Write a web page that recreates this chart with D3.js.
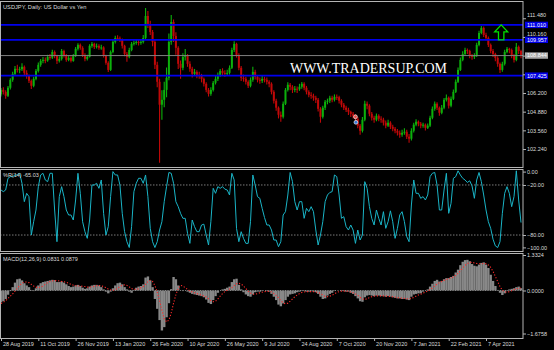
<!DOCTYPE html>
<html>
<head>
<meta charset="utf-8">
<script src="https://cdn.jsdelivr.net/npm/d3@7"></script>
<style>
  html, body { margin: 0; padding: 0; background: #000; }
  svg { display: block; }
</style>
</head>
<body>
<div id="chart"></div>
<script>
// USDJPY daily, one entry per two trading days
const firstOpen = 106.10;
const closes = [
  106.42,106.28,106.00,106.57,107.13,107.55,107.91,107.83,107.88,108.05,
  107.62,107.41,107.06,106.71,107.20,107.76,108.19,108.47,108.54,108.50,
  108.75,108.70,109.10,108.82,108.47,108.61,109.17,108.82,108.54,108.68,
  108.47,108.82,109.32,109.60,109.39,108.89,108.61,108.75,109.53,109.67,
  109.46,109.53,109.39,109.42,108.82,108.33,107.83,109.10,109.81,110.09,
  110.05,109.95,109.53,108.96,108.75,109.24,109.67,109.74,109.81,109.74,
  109.81,110.09,111.64,111.08,110.51,109.81,108.19,106.99,105.37,105.72,
  106.42,107.27,109.81,111.22,110.23,109.39,108.26,107.98,108.75,108.82,
  108.26,107.91,107.55,107.69,107.48,107.41,107.20,106.85,106.42,106.14,
  106.42,106.92,107.20,107.48,107.76,107.62,107.55,107.62,107.98,109.24,
  109.67,108.89,107.98,107.27,107.20,106.99,106.71,107.13,107.69,107.34,
  107.13,107.06,107.20,107.13,106.99,106.85,106.28,105.65,105.16,104.66,
  104.52,105.44,106.42,106.78,106.64,106.42,106.50,106.46,106.64,106.85,
  106.57,106.28,106.07,106.00,105.86,105.72,105.08,104.52,105.16,105.58,
  105.65,105.86,105.72,105.93,105.90,105.65,105.37,105.16,105.01,104.87,
  104.73,104.59,104.38,103.89,103.53,104.31,105.44,105.30,104.73,104.45,
  104.31,104.59,104.38,104.31,104.10,103.89,104.10,103.81,103.67,103.53,
  103.39,103.25,103.39,103.46,103.11,102.97,103.53,103.96,104.17,104.03,
  103.89,103.96,103.74,103.89,104.45,105.08,105.44,105.16,104.80,105.16,
  105.72,105.86,105.30,105.79,106.28,106.99,107.83,108.54,108.96,109.24,
  109.17,108.82,108.75,108.82,109.60,110.44,110.80,110.30,110.09,109.60,
  109.17,108.96,108.68,108.26,107.83,108.26,109.10,109.32,109.24,108.82,
  108.54,109.46,109.17,108.84
];
const highs = [
  106.55,106.60,106.40,106.70,107.25,107.70,108.10,108.20,108.05,108.30,
  108.15,107.80,107.50,107.15,107.35,107.90,108.35,108.60,108.75,108.70,
  108.90,108.95,109.25,109.20,108.90,108.80,109.30,109.25,108.95,108.85,
  108.80,108.95,109.45,109.72,109.70,109.50,109.00,108.90,109.65,109.80,
  109.75,109.70,109.65,109.60,109.50,108.90,108.45,109.20,109.95,110.25,
  110.28,110.20,110.05,109.60,109.10,109.40,109.80,109.90,110.00,109.95,
  109.95,110.30,112.21,112.00,111.30,110.65,110.00,108.40,107.20,106.40,
  107.00,108.00,110.40,111.71,111.40,110.50,109.50,108.50,109.00,109.30,
  108.95,108.45,108.05,107.90,107.80,107.70,107.55,107.30,106.95,106.55,
  106.60,107.05,107.40,107.65,107.90,107.95,107.80,107.85,108.15,109.40,
  109.85,109.75,109.00,108.10,107.50,107.35,107.10,107.30,108.05,107.85,
  107.45,107.30,107.40,107.35,107.30,107.10,106.95,106.40,105.80,105.25,
  104.90,105.60,106.55,106.95,106.90,106.75,106.70,106.65,106.85,106.98,
  106.95,106.70,106.40,106.25,106.15,106.00,105.85,105.20,105.30,105.70,
  105.80,106.00,106.00,106.10,106.10,106.00,105.75,105.50,105.30,105.15,
  104.95,104.85,104.70,104.50,104.00,104.50,105.65,105.60,105.40,104.85,
  104.60,104.75,104.70,104.55,104.45,104.25,104.30,104.20,103.95,103.80,
  103.65,103.55,103.60,103.70,103.60,103.30,103.70,104.10,104.35,104.25,
  104.15,104.10,104.05,104.05,104.60,105.25,105.60,105.55,105.25,105.35,
  105.85,106.10,105.95,105.95,106.45,107.15,108.00,108.70,109.15,109.40,
  109.35,109.25,108.95,109.00,109.75,110.60,110.94,110.90,110.45,110.20,
  109.70,109.30,109.05,108.80,108.35,108.40,109.25,109.45,109.40,109.35,
  108.95,109.74,109.55,109.25
];
const lows = [
  105.95,106.10,105.80,105.92,106.45,107.00,107.40,107.65,107.60,107.75,
  107.45,107.20,106.90,106.48,106.60,107.10,107.65,108.05,108.30,108.30,
  108.40,108.55,108.60,108.65,108.25,108.35,108.50,108.70,108.40,108.45,
  108.35,108.40,108.75,109.20,109.25,108.75,108.45,108.50,108.70,109.40,
  109.30,109.35,109.25,109.25,108.70,108.20,107.68,107.75,109.00,109.70,
  109.90,109.80,109.35,108.80,108.40,108.65,109.15,109.55,109.60,109.55,
  109.60,109.70,110.00,110.80,110.30,109.50,107.90,106.60,101.27,104.30,
  105.20,105.90,107.10,109.60,109.80,108.90,107.90,107.20,107.80,108.50,
  108.05,107.70,107.30,107.40,107.25,107.20,106.95,106.65,106.25,105.95,
  106.00,106.30,106.80,107.05,107.35,107.45,107.35,107.40,107.50,107.90,
  109.10,108.70,107.80,107.05,107.00,106.80,106.55,106.60,107.00,107.15,
  106.95,106.85,106.90,106.95,106.80,106.60,106.10,105.45,104.95,104.40,
  104.17,104.40,105.35,106.30,106.40,106.20,106.25,106.20,106.35,106.50,
  106.40,106.10,105.90,105.80,105.65,105.50,104.90,104.10,104.40,105.00,
  105.40,105.50,105.55,105.60,105.70,105.45,105.20,105.00,104.85,104.65,
  104.50,104.40,104.20,103.70,103.25,103.40,104.20,105.05,104.55,104.25,
  104.10,104.20,104.20,104.10,103.90,103.70,103.80,103.65,103.50,103.35,
  103.20,103.04,103.10,103.25,102.95,102.69,102.85,103.40,103.85,103.85,
  103.70,103.75,103.55,103.65,103.80,104.35,104.95,105.00,104.60,104.70,
  105.05,105.60,105.10,105.20,105.70,106.20,106.90,107.75,108.45,108.85,
  108.95,108.65,108.55,108.60,108.75,109.50,110.35,110.15,109.90,109.45,
  109.00,108.75,108.45,108.05,107.62,107.70,108.15,109.00,109.00,108.65,
  108.35,108.45,108.95,108.65
];

// Williams %R(14)
const wpr = [
  -26,-28,-26,-12,-10,-10,-8,-8,-6,-18,
  -40,-30,-34,-80,-64,-50,-22,-8,-6,-14,
  -16,-6,-6,-50,-88,-34,-22,-34,-50,-56,
  -56,-62,-38,-6,-30,-64,-76,-84,-62,-20,
  -20,-18,-24,-14,-54,-80,-70,-34,-4,-8,
  -8,-20,-54,-76,-88,-95,-70,-28,-18,-12,
  -12,-18,-8,-34,-72,-88,-95,-88,-74,-64,
  -40,-22,-5,-6,-18,-40,-46,-54,-60,-60,
  -78,-90,-62,-70,-76,-76,-68,-67,-80,-92,
  -64,-24,-30,-22,-24,-22,-25,-26,-32,-6,
  -14,-72,-88,-76,-84,-90,-90,-64,-8,-20,
  -34,-36,-48,-59,-68,-68,-74,-86,-86,-94,
  -88,-56,-52,-32,-5,-16,-40,-50,-40,-40,
  -60,-48,-52,-46,-52,-74,-92,-80,-64,-40,
  -32,-29,-28,-8,-10,-32,-60,-58,-70,-74,
  -68,-74,-90,-74,-86,-80,-16,-24,-46,-60,
  -68,-50,-60,-68,-52,-72,-64,-51,-64,-84,
  -72,-56,-52,-64,-82,-88,-44,-14,-30,-30,
  -36,-34,-38,-32,-10,-6,-5,-20,-50,-50,
  -26,-6,-54,-42,-12,-10,-3,-8,-12,-14,
  -17,-15,-21,-36,-14,-5,-16,-32,-50,-64,
  -72,-85,-93,-95,-88,-54,-30,-22,-30,-46,
  -34,-3,-38,-65.03
];

// MACD(12,26,9) main (histogram) and signal
const macd = [
  -0.42,-0.38,-0.30,-0.15,-0.02,0.12,0.28,0.40,0.42,0.36,
  0.26,0.18,0.12,0.02,-0.02,0.08,0.18,0.26,0.30,0.32,
  0.34,0.36,0.38,0.37,0.30,0.30,0.32,0.28,0.22,0.16,
  0.12,0.14,0.18,0.20,0.16,0.10,0.06,0.08,0.14,0.18,
  0.20,0.20,0.18,0.12,0.04,-0.04,-0.10,-0.04,0.08,0.18,
  0.26,0.28,0.22,0.12,0.04,-0.04,-0.08,0.02,0.10,0.14,
  0.16,0.22,0.46,0.50,0.36,0.12,-0.30,-0.65,-1.05,-1.42,
  -1.30,-0.95,-0.45,0.05,0.48,0.40,0.18,0.00,-0.02,0.00,
  -0.04,-0.08,-0.12,-0.14,-0.16,-0.18,-0.20,-0.24,-0.32,-0.44,
  -0.48,-0.34,-0.20,-0.08,0.00,0.04,0.06,0.10,0.14,0.30,
  0.40,0.42,0.20,0.04,-0.06,-0.14,-0.20,-0.22,-0.14,-0.06,
  -0.04,-0.04,-0.02,0.00,-0.02,-0.04,-0.12,-0.22,-0.34,-0.50,
  -0.56,-0.46,-0.34,-0.22,-0.14,-0.12,-0.10,-0.06,-0.04,-0.02,
  -0.02,-0.04,-0.04,-0.02,-0.04,-0.06,-0.12,-0.22,-0.30,-0.28,
  -0.18,-0.12,-0.08,-0.02,0.00,0.00,-0.02,-0.02,-0.04,-0.04,
  -0.08,-0.12,-0.20,-0.28,-0.38,-0.40,-0.24,-0.18,-0.16,-0.18,
  -0.20,-0.18,-0.18,-0.20,-0.20,-0.22,-0.20,-0.22,-0.24,-0.26,
  -0.28,-0.28,-0.30,-0.30,-0.32,-0.34,-0.22,-0.14,-0.12,-0.10,
  -0.10,-0.04,0.00,0.04,0.14,0.24,0.34,0.38,0.32,0.34,
  0.40,0.44,0.44,0.48,0.52,0.64,0.74,0.90,1.02,1.08,
  1.09,1.04,0.94,0.88,0.86,0.92,0.98,1.00,0.92,0.80,
  0.56,0.34,0.16,0.02,-0.08,-0.16,-0.10,-0.02,0.04,0.06,
  0.08,0.12,0.14,0.0831
];
const signal = [
  -0.46,-0.42,-0.36,-0.28,-0.20,-0.12,-0.02,0.08,0.18,0.26,
  0.30,0.30,0.28,0.22,0.16,0.12,0.10,0.12,0.16,0.22,
  0.28,0.32,0.34,0.35,0.35,0.34,0.32,0.31,0.29,0.26,
  0.22,0.19,0.17,0.16,0.16,0.15,0.14,0.12,0.12,0.13,
  0.15,0.17,0.18,0.17,0.14,0.10,0.05,0.02,0.01,0.03,
  0.08,0.14,0.19,0.20,0.18,0.13,0.07,0.04,0.04,0.06,
  0.10,0.14,0.22,0.32,0.36,0.32,0.18,-0.06,-0.36,-0.70,
  -1.00,-1.12,-1.05,-0.80,-0.45,-0.15,0.08,0.18,0.16,0.10,
  0.04,-0.01,-0.05,-0.08,-0.11,-0.14,-0.16,-0.19,-0.23,-0.29,
  -0.36,-0.40,-0.38,-0.30,-0.20,-0.11,-0.04,0.01,0.05,0.10,
  0.17,0.24,0.26,0.23,0.16,0.07,-0.02,-0.09,-0.13,-0.13,
  -0.11,-0.08,-0.06,-0.04,-0.03,-0.03,-0.05,-0.10,-0.17,-0.26,
  -0.36,-0.44,-0.47,-0.45,-0.38,-0.30,-0.22,-0.16,-0.11,-0.07,
  -0.05,-0.04,-0.04,-0.04,-0.04,-0.05,-0.07,-0.11,-0.16,-0.21,
  -0.22,-0.20,-0.17,-0.12,-0.07,-0.04,-0.02,-0.02,-0.02,-0.03,
  -0.05,-0.08,-0.12,-0.17,-0.24,-0.30,-0.32,-0.29,-0.25,-0.22,
  -0.20,-0.19,-0.19,-0.19,-0.19,-0.20,-0.20,-0.21,-0.22,-0.23,
  -0.25,-0.26,-0.27,-0.28,-0.29,-0.30,-0.28,-0.24,-0.20,-0.16,
  -0.13,-0.09,-0.06,-0.02,0.03,0.09,0.16,0.23,0.28,0.32,
  0.36,0.39,0.42,0.45,0.48,0.54,0.61,0.70,0.80,0.89,
  0.96,1.00,1.00,0.98,0.96,0.95,0.95,0.96,0.95,0.91,
  0.82,0.68,0.50,0.32,0.14,0.01,-0.05,-0.06,-0.04,-0.01,
  0.03,0.06,0.08,0.0879
];

// axis labels
const dateTickBars = [0,16,32,48,64,80,96,112,128,144,160,176,192,208];
const dateLabels = ["28 Aug 2019","11 Oct 2019","26 Nov 2019","13 Jan 2020","26 Feb 2020",
  "10 Apr 2020","26 May 2020","9 Jul 2020","24 Aug 2020","7 Oct 2020","20 Nov 2020",
  "7 Jan 2021","22 Feb 2021","7 Apr 2021"];
const priceTicks = [111.48,110.16,108.84,107.52,106.20,104.88,103.56,102.24];
const levelLines = [111.010, 109.957, 107.425];
const bidPrice = 108.844;
const wprTicks = [0,-20,-80,-100];
const wprLevels = [-20,-80];
const macdTicks = [1.3324, 0, -1.6758];

// annotations on the price pane
const arrowMark = { bar: 214.5, top: 111.01, bottom: 109.95 };
const tradeMarks = [
  { bar: 152.0, price: 104.52, color: "#e8504a" },
  { bar: 152.2, price: 104.13, color: "#3a78d8" }
];

const W = 554, H = 350, xR = 523;
const font = "'Liberation Sans', Arial, sans-serif";
const fs = 5.5;
const frame = "#b4b4b4";
const txt = "#dcdcdc";

const svg = d3.select("#chart").append("svg")
  .attr("width", W).attr("height", H)
  .attr("viewBox", [0, 0, W, H])
  .style("background", "#000");

const x = d3.scaleLinear().domain([0, closes.length - 1]).range([1, 521]);
const step = x(1) - x(0);
const yP = d3.scaleLinear().domain([100.97, 112.70]).range([167, 1]);
const yW = d3.scaleLinear().domain([-100, 0]).range([251.7, 168.3]);
const yM = d3.scaleLinear().domain([-1.6758, 1.3324]).range([337.7, 253]);

svg.append("defs").append("clipPath").attr("id", "clipMain")
  .append("rect").attr("x", 1).attr("y", 2).attr("width", xR - 1).attr("height", 165);

// ---------- price pane ----------
const main = svg.append("g").attr("clip-path", "url(#clipMain)");

const bars = closes.map((c, i) => ({
  i, c, h: highs[i], l: lows[i], o: i === 0 ? firstOpen : closes[i - 1]
}));
const green = "#0cb00c", red = "#c00808";

main.append("g").selectAll("line").data(bars).join("line")
  .attr("x1", d => x(d.i)).attr("x2", d => x(d.i))
  .attr("y1", d => yP(d.h)).attr("y2", d => yP(d.l))
  .attr("stroke", d => d.c >= d.o ? green : red).attr("stroke-width", 1.1);

main.append("g").selectAll("rect").data(bars).join("rect")
  .attr("x", d => x(d.i) - 1).attr("width", 2)
  .attr("y", d => yP(Math.max(d.o, d.c)))
  .attr("height", d => Math.max(1, Math.abs(yP(d.o) - yP(d.c))))
  .attr("fill", d => d.c >= d.o ? green : red);

// horizontal lines
main.append("line").attr("x1", 0).attr("x2", xR)
  .attr("y1", yP(bidPrice)).attr("y2", yP(bidPrice))
  .attr("stroke", "#808080").attr("stroke-width", 1);
main.append("g").selectAll("line").data(levelLines).join("line")
  .attr("x1", 0).attr("x2", xR)
  .attr("y1", d => yP(d)).attr("y2", d => yP(d))
  .attr("stroke", "#0000ee").attr("stroke-width", 1.8);

// watermark
svg.append("text").attr("x", 290).attr("y", 72.5)
  .attr("font-family", "'Liberation Serif', 'Times New Roman', serif")
  .attr("font-size", 14.5).attr("fill", "#ffffff")
  .attr("textLength", 157).attr("lengthAdjust", "spacingAndGlyphs")
  .text("WWW.TRADERSUP.COM");

// arrow
{
  const cx = x(arrowMark.bar), t = yP(arrowMark.top), b = yP(arrowMark.bottom);
  const hw = 6.5, sw = 2.7, hh = 7;
  svg.append("path")
    .attr("d", `M${cx},${t}L${cx + hw},${t + hh}L${cx + sw},${t + hh}L${cx + sw},${b}L${cx - sw},${b}L${cx - sw},${t + hh}L${cx - hw},${t + hh}Z`)
    .attr("fill", "none").attr("stroke", "#00e000").attr("stroke-width", 1.3);
}

// trade markers
svg.append("line")
  .attr("x1", x(tradeMarks[0].bar)).attr("x2", x(tradeMarks[1].bar))
  .attr("y1", yP(tradeMarks[0].price)).attr("y2", yP(tradeMarks[1].price))
  .attr("stroke", "#aaa").attr("stroke-width", 0.6).attr("stroke-dasharray", "1,1");
svg.append("g").selectAll("circle").data(tradeMarks).join("circle")
  .attr("cx", d => x(d.bar)).attr("cy", d => yP(d.price)).attr("r", 1.9)
  .attr("fill", d => d.color).attr("stroke", "#eee").attr("stroke-width", 0.7);

svg.append("text").attr("x", 3).attr("y", 8.5)
  .attr("font-family", font).attr("font-size", 5.7).attr("fill", txt)
  .text("USDJPY, Daily:  US Dollar vs Yen");

// ---------- %R pane ----------
svg.append("g").selectAll("line").data(wprLevels).join("line")
  .attr("x1", 0).attr("x2", xR)
  .attr("y1", d => yW(d)).attr("y2", d => yW(d))
  .attr("stroke", "#9a9a9a").attr("stroke-width", 0.8).attr("stroke-dasharray", "1.5,1.5");

svg.append("path").datum(wpr)
  .attr("d", d3.line().x((d, i) => x(i)).y(d => yW(d)))
  .attr("fill", "none").attr("stroke", "#1ab4c6").attr("stroke-width", 1);

svg.append("text").attr("x", 3).attr("y", 176.5)
  .attr("font-family", font).attr("font-size", fs).attr("fill", txt)
  .text("%R(14) -65.03");

// ---------- MACD pane ----------
svg.append("g").selectAll("rect").data(macd).join("rect")
  .attr("x", (d, i) => x(i) - step / 2).attr("width", step + 0.05)
  .attr("y", d => yM(Math.max(0, d)))
  .attr("height", d => Math.abs(yM(d) - yM(0)))
  .attr("fill", "#888888");

svg.append("line").attr("x1", 0).attr("x2", xR)
  .attr("y1", yM(0)).attr("y2", yM(0))
  .attr("stroke", "#9a9a9a").attr("stroke-width", 0.8).attr("stroke-dasharray", "1,1.5");

svg.append("path").datum(signal)
  .attr("d", d3.line().x((d, i) => x(i)).y(d => yM(d)))
  .attr("fill", "none").attr("stroke", "#ff2a2a").attr("stroke-width", 1.1)
  .attr("stroke-dasharray", "1.2,1.8");

svg.append("text").attr("x", 3).attr("y", 261)
  .attr("font-family", font).attr("font-size", fs).attr("fill", txt)
  .text("MACD(12,26,9) 0.0831 0.0879");

// ---------- frames ----------
const fr = svg.append("g").attr("stroke", frame).attr("fill", "none").attr("stroke-width", 1);
[[1, 167], [169, 251], [253, 338]].forEach(([t, b]) => {
  fr.append("rect").attr("x", 0.5).attr("y", t + 0.5).attr("width", xR - 0.5).attr("height", b - t);
});

// ---------- axes ----------
function styleAxis(g) {
  g.select(".domain").remove();
  g.attr("font-family", font).attr("font-size", fs);
  g.selectAll(".tick line").attr("stroke", frame);
  g.selectAll(".tick text").attr("fill", txt);
}

const tagged = levelLines.concat([bidPrice]);
const pAxis = svg.append("g").attr("transform", `translate(${xR},0)`)
  .call(d3.axisRight(yP).tickValues(priceTicks).tickSize(3).tickPadding(1).tickFormat(d3.format(".3f")))
  .call(styleAxis);
// tick labels that sit under a line's price tag are hidden by it, as in the terminal
pAxis.selectAll(".tick text")
  .filter(d => tagged.some(v => Math.abs(yP(v) - yP(d)) < 2.5)).remove();
pAxis.selectAll(".tick text")
  .filter(d => tagged.some(v => Math.abs(yP(v) - yP(d)) < 7.5)).attr("dy", "-0.25em");

const wAxis = svg.append("g").attr("transform", `translate(${xR},0)`)
  .call(d3.axisRight(yW).tickValues(wprTicks).tickSize(3).tickPadding(1).tickFormat(d3.format(".2f")))
  .call(styleAxis);
wAxis.selectAll(".tick").filter(d => d === 0).attr("transform", `translate(0,${yW(0) + 3.8})`);
wAxis.selectAll(".tick").filter(d => d === -100).attr("transform", `translate(0,${yW(-100) - 3.8})`);

const mAxis = svg.append("g").attr("transform", `translate(${xR},0)`)
  .call(d3.axisRight(yM).tickValues(macdTicks).tickSize(3).tickPadding(1).tickFormat(d3.format(".4f")))
  .call(styleAxis);
mAxis.selectAll(".tick").filter(d => d === macdTicks[0]).attr("transform", `translate(0,${yM(macdTicks[0]) + 2.5})`);
mAxis.selectAll(".tick").filter(d => d === macdTicks[2]).attr("transform", `translate(0,${yM(macdTicks[2]) - 3.7})`);

const xAxis = svg.append("g").attr("transform", "translate(0,338)")
  .call(d3.axisBottom(x).tickValues(dateTickBars).tickSize(3).tickFormat((d, k) => dateLabels[k]))
  .call(styleAxis);
xAxis.selectAll(".tick text").attr("text-anchor", "start").attr("x", 1.5).attr("y", 4);

// price tags for the lines (drawn over the axis)
const tags = svg.append("g").attr("font-family", font).attr("font-size", fs);
levelLines.forEach(v => {
  tags.append("rect").attr("x", 525).attr("y", yP(v) - 3.2).attr("width", 23).attr("height", 6.4).attr("fill", "#0000e6");
  tags.append("text").attr("x", 527).attr("y", yP(v)).attr("dy", "0.34em").attr("fill", "#fff").text(v.toFixed(3));
});
tags.append("rect").attr("x", 525).attr("y", yP(bidPrice) - 3.2).attr("width", 23).attr("height", 6.4).attr("fill", "#a8a8a8");
tags.append("text").attr("x", 527).attr("y", yP(bidPrice)).attr("dy", "0.34em").attr("fill", "#fff").text(bidPrice.toFixed(3));
</script>
</body>
</html>
